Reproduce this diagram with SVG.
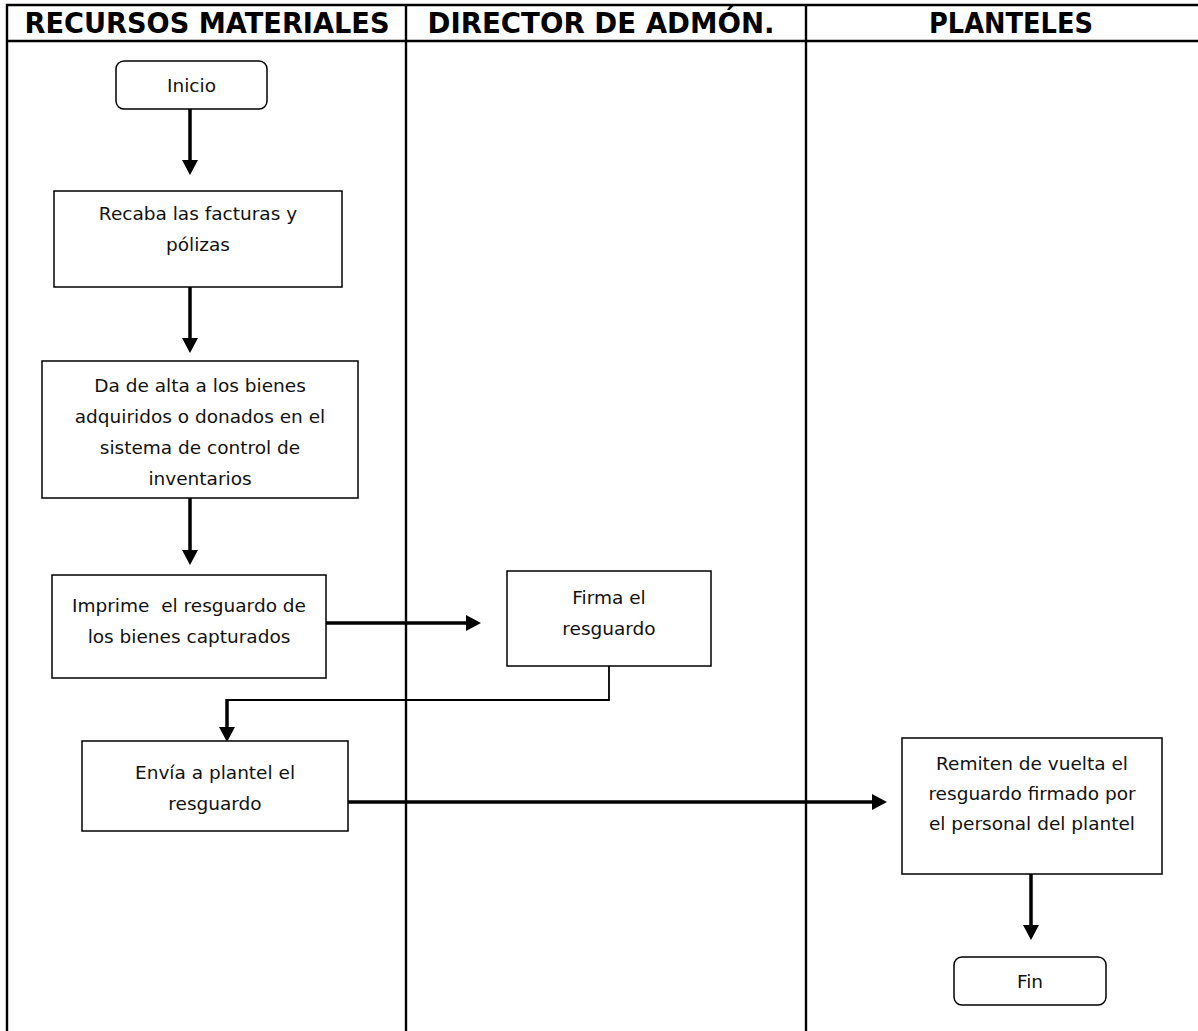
<svg xmlns="http://www.w3.org/2000/svg" width="1198" height="1031" viewBox="0 0 1198 1031">
  <style>
    .frame { stroke: #000; stroke-width: 2.4; fill: none; }
    .hdr { font-family: "DejaVu Sans", Verdana, sans-serif; font-weight: bold; font-size: 28px; fill: #000; text-anchor: middle; }
    .box { fill: #fff; stroke: #000; stroke-width: 1.5; }
    .lbl { font-family: "DejaVu Sans", Verdana, sans-serif; font-size: 18.5px; fill: #111; text-anchor: middle; }
    .flow { stroke: #000; stroke-width: 3.5; fill: none; }
    .thin { stroke: #000; stroke-width: 1.8; fill: none; }
  </style>
  <defs>
    <marker id="arrow" markerUnits="userSpaceOnUse" markerWidth="16" markerHeight="16" refX="0" refY="8" orient="auto">
      <path d="M0,0 L15,8 L0,16 Z" fill="#000"/>
    </marker>
  </defs>

  <rect width="1198" height="1031" fill="#fff"/>

  <!-- swimlane frame -->
  <g id="lanes">
    <line class="frame" x1="6" y1="5" x2="1198" y2="5"/>
    <line class="frame" x1="6" y1="41" x2="1198" y2="41"/>
    <line class="frame" x1="7" y1="4" x2="7" y2="1031"/>
    <line class="frame" x1="406" y1="4" x2="406" y2="1031"/>
    <line class="frame" x1="806" y1="4" x2="806" y2="1031"/>
    <text class="hdr" x="207" y="33" textLength="365" lengthAdjust="spacingAndGlyphs">RECURSOS MATERIALES</text>
    <text class="hdr" x="601" y="33" textLength="347" lengthAdjust="spacingAndGlyphs">DIRECTOR DE ADMÓN.</text>
    <text class="hdr" x="1011" y="33" textLength="164" lengthAdjust="spacingAndGlyphs">PLANTELES</text>
  </g>

  <!-- connectors -->
  <g id="connectors">
    <line class="flow" x1="190" y1="109" x2="190" y2="160" marker-end="url(#arrow)"/>
    <line class="flow" x1="190" y1="287" x2="190" y2="338" marker-end="url(#arrow)"/>
    <line class="flow" x1="190" y1="498" x2="190" y2="550" marker-end="url(#arrow)"/>
    <line class="flow" x1="326" y1="623" x2="466" y2="623" marker-end="url(#arrow)"/>
    <polyline class="thin" points="609,666 609,700 227,700"/>
    <line class="flow" x1="227" y1="699" x2="227" y2="727" marker-end="url(#arrow)"/>
    <line class="flow" x1="348" y1="802" x2="872" y2="802" marker-end="url(#arrow)"/>
    <line class="flow" x1="1031" y1="874" x2="1031" y2="925" marker-end="url(#arrow)"/>
  </g>

  <g id="inicio">
    <rect class="box" x="116" y="61" width="151" height="48" rx="8"/>
    <text class="lbl" x="191.5" y="92">Inicio</text>
  </g>

  <g id="recaba">
    <rect class="box" x="54" y="191" width="288" height="96"/>
    <text class="lbl" x="198" y="220">Recaba las facturas y</text>
    <text class="lbl" x="198" y="251">pólizas</text>
  </g>

  <g id="alta">
    <rect class="box" x="42" y="361" width="316" height="137"/>
    <text class="lbl" x="200" y="392">Da de alta a los bienes</text>
    <text class="lbl" x="200" y="423">adquiridos o donados en el</text>
    <text class="lbl" x="200" y="454">sistema de control de</text>
    <text class="lbl" x="200" y="485">inventarios</text>
  </g>

  <g id="imprime">
    <rect class="box" x="52" y="575" width="274" height="103"/>
    <text class="lbl" x="189" y="612" xml:space="preserve">Imprime  el resguardo de</text>
    <text class="lbl" x="189" y="643">los bienes capturados</text>
  </g>

  <g id="firma">
    <rect class="box" x="507" y="571" width="204" height="95"/>
    <text class="lbl" x="609" y="604">Firma el</text>
    <text class="lbl" x="609" y="635">resguardo</text>
  </g>

  <g id="envia">
    <rect class="box" x="82" y="741" width="266" height="90"/>
    <text class="lbl" x="215" y="779">Envía a plantel el</text>
    <text class="lbl" x="215" y="810">resguardo</text>
  </g>

  <g id="remiten">
    <rect class="box" x="902" y="738" width="260" height="136"/>
    <text class="lbl" x="1032" y="770">Remiten de vuelta el</text>
    <text class="lbl" x="1032" y="800">resguardo firmado por</text>
    <text class="lbl" x="1032" y="830">el personal del plantel</text>
  </g>

  <g id="fin">
    <rect class="box" x="954" y="957" width="152" height="48" rx="8"/>
    <text class="lbl" x="1030" y="988">Fin</text>
  </g>
</svg>
